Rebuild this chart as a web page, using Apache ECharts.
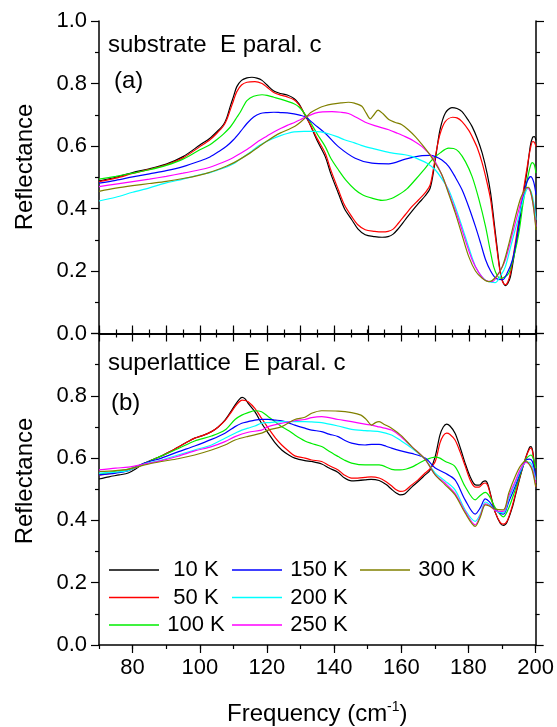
<!DOCTYPE html>
<html><head><meta charset="utf-8">
<script src="https://cdn.jsdelivr.net/npm/echarts@6/dist/echarts.min.js"></script>
<style>html,body{margin:0;padding:0;background:#fff}#c{width:557px;height:727px}</style>
</head><body><div id="c"></div>
<script>
const tempNames = ['10 K','50 K','100 K','150 K','200 K','250 K','300 K'];
const lineColors = ['#000000','#ff0000','#00ee00','#0000ff','#00ffff','#ff00ff','#808000'];
const xLabelValues = [80,100,120,140,160,180,200];
const panelTitles = ['substrate  E paral. c','superlattice  E paral. c'];
const panelTags = ['(a)','(b)'];

// substrate (a)
const sub10K = [[70,0.488],[75,0.500],[80,0.515],[85,0.527],[90,0.542],[95,0.566],[100,0.603],[103,0.625],[105,0.645],[107,0.668],[108,0.690],[109,0.725],[110,0.758],[111,0.790],[112.4,0.810],[114,0.818],[115.5,0.820],[117,0.817],[118.5,0.810],[120,0.795],[122,0.776],[124,0.768],[126,0.763],[128,0.752],[129.5,0.735],[131,0.705],[132.5,0.675],[135,0.615],[137.3,0.566],[139,0.510],[141.2,0.449],[143,0.400],[145.2,0.364],[147,0.335],[149.2,0.316],[152,0.310],[154.2,0.308],[156,0.310],[157.5,0.318],[159,0.335],[161.1,0.364],[163,0.390],[165.1,0.417],[167,0.440],[168.5,0.465],[169.6,0.524],[170.5,0.590],[171.5,0.655],[173,0.705],[175,0.723],[176.5,0.720],[178,0.710],[180,0.680],[181,0.662],[182.5,0.625],[184,0.577],[185.5,0.510],[186.5,0.449],[187.5,0.360],[188.4,0.278],[189.2,0.210],[190,0.170],[190.9,0.153],[191.6,0.160],[192.4,0.182],[193.5,0.250],[194.9,0.342],[196,0.430],[197.4,0.524],[198.3,0.600],[199,0.628],[199.5,0.630],[200,0.618]];
const sub50K = [[70,0.486],[75,0.497],[80,0.512],[85,0.525],[90,0.540],[95,0.562],[100,0.598],[103,0.620],[105,0.640],[107,0.664],[108,0.684],[109,0.714],[110,0.745],[111,0.774],[112.4,0.795],[114,0.804],[116.4,0.806],[118.5,0.800],[120,0.788],[122,0.771],[124,0.763],[126,0.757],[128,0.748],[129.5,0.732],[131,0.705],[132.5,0.676],[135,0.622],[137.3,0.577],[139,0.522],[141.2,0.460],[143,0.412],[145.2,0.374],[147,0.348],[149.2,0.332],[152,0.327],[154.2,0.325],[156,0.327],[157.5,0.334],[159,0.352],[161.1,0.380],[163,0.405],[165.1,0.428],[167,0.450],[168.5,0.475],[169.6,0.535],[170.5,0.592],[171.5,0.640],[173,0.678],[175.2,0.692],[176.5,0.690],[178,0.678],[180,0.650],[181,0.630],[182.5,0.595],[184,0.545],[185.5,0.480],[186.5,0.428],[187.5,0.345],[188.4,0.268],[189.2,0.205],[190,0.167],[190.9,0.156],[191.6,0.165],[192.4,0.193],[193.5,0.265],[194.9,0.364],[196,0.440],[197.4,0.535],[198.3,0.590],[199,0.614],[199.5,0.612],[200,0.598]];
const sub100K = [[70,0.494],[75,0.503],[80,0.513],[85,0.524],[90,0.538],[95,0.558],[100,0.588],[103,0.604],[105,0.620],[107,0.638],[109,0.660],[110,0.675],[111,0.692],[112,0.708],[113,0.728],[114,0.745],[116,0.759],[118.5,0.764],[120,0.762],[122,0.756],[124,0.750],[126.3,0.742],[128,0.735],[129.5,0.725],[131,0.706],[132.5,0.683],[135,0.637],[137.3,0.598],[139,0.560],[141.2,0.524],[143.5,0.490],[146.2,0.460],[148.5,0.443],[151.2,0.433],[154.2,0.426],[157,0.432],[159.1,0.444],[161.5,0.462],[164.1,0.492],[166.5,0.522],[169.1,0.556],[171.5,0.578],[174,0.593],[175.5,0.592],[177,0.582],[179,0.550],[181,0.502],[183,0.430],[185,0.342],[186.3,0.270],[187.4,0.214],[188.5,0.185],[189.4,0.177],[190.5,0.180],[191.9,0.193],[193.5,0.250],[194.9,0.321],[196.2,0.420],[197.4,0.492],[198.3,0.535],[198.9,0.547],[199.5,0.540],[200,0.513]];
const sub150K = [[70,0.481],[75,0.490],[80,0.501],[85,0.511],[90,0.521],[95,0.534],[100,0.552],[103,0.565],[106,0.585],[108,0.600],[110,0.620],[112,0.645],[114,0.672],[116,0.693],[118,0.704],[120,0.707],[122,0.708],[124,0.707],[126,0.706],[128,0.703],[130,0.698],[131.5,0.692],[134,0.670],[137.3,0.641],[141.2,0.598],[146.2,0.561],[151.2,0.545],[156.2,0.543],[161.1,0.558],[166.1,0.569],[168.5,0.570],[170.1,0.566],[172,0.555],[174,0.535],[176,0.500],[178,0.460],[180,0.405],[182,0.342],[183.5,0.290],[185,0.236],[186.5,0.200],[188,0.177],[190,0.172],[191.5,0.195],[193,0.236],[194.5,0.320],[195.9,0.428],[197.3,0.485],[198.4,0.502],[199.3,0.485],[200,0.444]];
const sub200K = [[70,0.424],[75,0.436],[80,0.452],[85,0.466],[90,0.482],[95,0.494],[100,0.508],[103,0.515],[105,0.522],[108,0.533],[110,0.543],[112,0.558],[115,0.580],[117,0.597],[120,0.615],[122,0.625],[124,0.633],[126,0.640],[128,0.645],[131,0.647],[134,0.647],[136,0.645],[138,0.640],[140.8,0.630],[143,0.620],[146,0.610],[148,0.602],[151,0.593],[154,0.585],[157,0.578],[161,0.572],[163,0.567],[165,0.558],[167.6,0.545],[170,0.524],[172,0.495],[174,0.460],[176,0.405],[178,0.342],[180,0.275],[182,0.214],[184,0.180],[185.5,0.167],[187.9,0.163],[189.5,0.185],[190.9,0.214],[193,0.300],[194.9,0.374],[196.5,0.440],[197.7,0.465],[198.5,0.455],[199.3,0.420],[200,0.364]];
const sub250K = [[70,0.470],[75,0.478],[80,0.486],[85,0.494],[90,0.503],[95,0.513],[100,0.524],[103,0.532],[105,0.540],[108,0.553],[110,0.563],[112,0.576],[115,0.596],[117,0.612],[120,0.632],[122,0.645],[124,0.656],[126,0.666],[128.3,0.676],[130,0.685],[131.8,0.694],[134.3,0.705],[136.5,0.709],[139.3,0.710],[142,0.708],[144.2,0.704],[146.5,0.692],[149.2,0.676],[152,0.665],[156.2,0.652],[158.5,0.642],[161.1,0.630],[163.5,0.617],[166.1,0.598],[168,0.578],[169.1,0.566],[171,0.530],[173,0.481],[175,0.423],[177,0.364],[179,0.298],[181,0.236],[183,0.195],[185,0.170],[187,0.166],[189,0.195],[190.9,0.236],[193,0.320],[194.9,0.396],[196.3,0.450],[197.4,0.467],[198.3,0.455],[199.2,0.410],[200,0.342]];
const sub300K = [[70,0.455],[75,0.465],[80,0.473],[85,0.480],[90,0.487],[95,0.496],[100,0.507],[103,0.516],[105,0.523],[108,0.536],[110,0.546],[112,0.558],[115,0.578],[117.5,0.597],[120,0.616],[122,0.630],[124,0.642],[126,0.651],[128.3,0.663],[130,0.677],[131.8,0.694],[133,0.707],[135.3,0.721],[137,0.728],[139.3,0.734],[142,0.738],[144.2,0.740],[146,0.737],[148.2,0.727],[149.5,0.705],[150.7,0.687],[151.8,0.700],[153,0.715],[154.5,0.703],[156.2,0.685],[158,0.676],[160.1,0.668],[162,0.652],[164.1,0.630],[166,0.606],[168.1,0.577],[170,0.545],[172,0.508],[174,0.448],[176,0.385],[178,0.315],[180,0.246],[182,0.200],[184,0.177],[186,0.166],[188,0.180],[190,0.214],[192,0.290],[193.9,0.374],[195.5,0.435],[197,0.465],[197.8,0.468],[198.6,0.445],[199.3,0.400],[200,0.331]];

// superlattice (b)
const sl10K = [[70,0.533],[73,0.540],[76,0.546],[78.7,0.552],[81,0.566],[83.6,0.584],[86,0.595],[88.6,0.607],[91,0.620],[93.5,0.635],[96,0.650],[98.5,0.664],[101,0.673],[103.5,0.685],[105.5,0.700],[107.5,0.722],[109,0.745],[110.5,0.770],[111.7,0.788],[112.6,0.795],[113.5,0.790],[114.4,0.776],[116.4,0.749],[118.4,0.712],[120.4,0.680],[122.5,0.648],[124.4,0.626],[126.5,0.610],[128.3,0.600],[131.3,0.592],[133.3,0.589],[136.3,0.581],[138.5,0.568],[141.2,0.554],[143,0.537],[145.2,0.527],[147,0.528],[149.2,0.530],[151,0.532],[153.4,0.528],[155.5,0.515],[157.1,0.500],[158.5,0.488],[159.6,0.482],[161,0.485],[163.1,0.507],[165,0.525],[167.1,0.546],[168.5,0.560],[170.1,0.605],[171.5,0.674],[172.5,0.700],[173.5,0.709],[174.5,0.703],[176,0.680],[177.5,0.635],[179,0.584],[180.5,0.540],[182,0.514],[183.2,0.513],[184.3,0.524],[185,0.527],[185.8,0.515],[187,0.465],[188,0.425],[189.5,0.390],[190.4,0.384],[191.5,0.395],[193,0.440],[193.9,0.477],[195.5,0.545],[197,0.600],[198.2,0.635],[198.6,0.637],[199.3,0.610],[200,0.515]];
const sl50K = [[70,0.545],[73,0.550],[76,0.556],[78.7,0.560],[81,0.570],[83.6,0.584],[86,0.595],[88.6,0.607],[91,0.620],[93.5,0.635],[96,0.650],[98.5,0.664],[101,0.673],[103.5,0.685],[105.5,0.700],[107.5,0.720],[109,0.742],[110.5,0.765],[111.7,0.780],[112.6,0.786],[113.5,0.785],[114.4,0.781],[116.4,0.760],[118.4,0.728],[120.4,0.696],[122.5,0.665],[124.4,0.642],[126.5,0.622],[128.3,0.607],[131.3,0.600],[133.3,0.594],[136.3,0.589],[138.5,0.576],[141.2,0.562],[143,0.546],[145.2,0.536],[147,0.536],[149.2,0.538],[151,0.540],[153.4,0.536],[155.5,0.524],[157.1,0.511],[158.5,0.498],[159.6,0.493],[161,0.495],[163.1,0.514],[165,0.530],[167.1,0.552],[168.5,0.565],[170.1,0.589],[171.5,0.648],[172.5,0.672],[173.5,0.680],[174.5,0.676],[176,0.658],[177.5,0.620],[179,0.575],[180.5,0.530],[182,0.507],[183.2,0.507],[184.3,0.518],[185,0.520],[185.8,0.510],[187,0.462],[188,0.425],[189.5,0.393],[190.4,0.388],[191.5,0.398],[193,0.445],[193.9,0.482],[195.5,0.548],[197,0.600],[198.2,0.630],[198.6,0.632],[199.3,0.605],[200,0.508]];
const sl100K = [[70,0.548],[75,0.558],[78.7,0.565],[83.6,0.584],[88.6,0.607],[93.5,0.630],[98.5,0.655],[103.5,0.671],[107.5,0.690],[110.5,0.724],[112.5,0.738],[114.4,0.746],[116.4,0.752],[118.4,0.749],[120.4,0.733],[122.5,0.716],[124.4,0.701],[126.5,0.688],[128.3,0.674],[131.3,0.655],[133.3,0.647],[136.3,0.637],[138.5,0.622],[141.2,0.605],[143,0.594],[145.2,0.584],[149.2,0.578],[153.4,0.578],[157.1,0.564],[159.6,0.562],[161.5,0.565],[163.1,0.571],[165,0.582],[167.1,0.594],[170.1,0.603],[171.5,0.600],[173,0.590],[176,0.573],[179,0.509],[182,0.466],[183.5,0.480],[185,0.490],[186.2,0.478],[188,0.440],[190.4,0.411],[192,0.440],[193.9,0.498],[195.5,0.550],[197,0.595],[198.6,0.610],[199.3,0.598],[200,0.568]];
const sl150K = [[70,0.546],[75,0.552],[78.7,0.560],[83.6,0.584],[88.6,0.600],[93.5,0.620],[98.5,0.639],[103.5,0.660],[107.5,0.680],[110.5,0.701],[112.5,0.712],[114.4,0.717],[116.4,0.722],[118.4,0.724],[120.4,0.724],[122.5,0.722],[124.4,0.720],[126.5,0.713],[128.3,0.706],[131.3,0.696],[133.3,0.690],[136.3,0.685],[138.5,0.677],[141.2,0.669],[143,0.658],[145.2,0.648],[149.2,0.642],[151.2,0.644],[153.4,0.644],[155.5,0.638],[157.1,0.632],[159.6,0.624],[163.1,0.615],[167.1,0.600],[170.1,0.568],[173,0.552],[176,0.530],[179,0.466],[182,0.420],[183.5,0.440],[185,0.469],[186.2,0.460],[188,0.434],[190.4,0.420],[192,0.460],[193.9,0.509],[195.5,0.555],[197.1,0.594],[198.2,0.597],[199,0.590],[200,0.541]];
const sl200K = [[70,0.552],[75,0.555],[78.7,0.560],[83.6,0.582],[88.6,0.594],[93.5,0.610],[98.5,0.626],[103.5,0.642],[107.5,0.664],[110.5,0.680],[112.5,0.690],[114.4,0.696],[116.4,0.703],[118.4,0.712],[120.4,0.714],[124.4,0.717],[128.3,0.717],[131.3,0.717],[133.3,0.716],[136.3,0.714],[141.2,0.703],[145.2,0.692],[149.2,0.688],[153.4,0.685],[157.1,0.674],[160,0.655],[163.1,0.632],[167.1,0.596],[170.1,0.552],[173,0.527],[176,0.498],[179,0.434],[182,0.397],[183.5,0.420],[185,0.459],[186.2,0.452],[188,0.432],[190.4,0.424],[192,0.470],[193.9,0.520],[195.5,0.560],[197.1,0.586],[198.2,0.586],[199,0.575],[200,0.530]];
const sl250K = [[70,0.562],[75,0.568],[78.7,0.571],[83.6,0.581],[88.6,0.592],[93.5,0.606],[98.5,0.623],[103.5,0.637],[107.5,0.653],[110.5,0.669],[114.4,0.683],[118.4,0.690],[120.4,0.701],[124.4,0.712],[128.3,0.720],[131.3,0.724],[133.3,0.730],[136.3,0.733],[141.2,0.724],[145.2,0.717],[149.2,0.709],[151.2,0.706],[153.4,0.700],[157.1,0.690],[160,0.668],[163.1,0.637],[167.1,0.596],[170.1,0.546],[173,0.520],[176,0.487],[179,0.429],[182,0.386],[183.5,0.415],[185,0.453],[186.2,0.448],[188,0.432],[190.4,0.429],[192,0.478],[193.9,0.525],[195.5,0.565],[197.1,0.586],[198.2,0.580],[199,0.565],[200,0.520]];
const sl300K = [[70,0.557],[75,0.560],[78.7,0.564],[83.6,0.578],[88.6,0.589],[93.5,0.598],[98.5,0.610],[103.5,0.626],[107.5,0.642],[110.5,0.658],[114.4,0.670],[118.4,0.680],[120.4,0.690],[124.4,0.701],[128.3,0.724],[131.3,0.731],[133.3,0.744],[136.3,0.752],[141.2,0.751],[145.2,0.746],[148,0.738],[149.5,0.725],[151.2,0.706],[152.3,0.714],[153.4,0.717],[155,0.708],[157.1,0.696],[160,0.672],[163.1,0.637],[167.1,0.596],[170.1,0.546],[173,0.515],[176,0.482],[179,0.424],[182,0.381],[183.5,0.410],[185,0.450],[186.2,0.446],[188,0.436],[190.4,0.434],[192,0.488],[193.9,0.541],[195.5,0.575],[197.1,0.591],[198.2,0.578],[199,0.560],[200,0.509]];

const subSeries = [sub10K, sub50K, sub100K, sub150K, sub200K, sub250K, sub300K];
const slSeries = [sl10K, sl50K, sl100K, sl150K, sl200K, sl250K, sl300K];

const FONT = 'Liberation Sans, Arial, sans-serif';
const G = [{left:99, top:21, width:437, height:312.5}, {left:99, top:333.5, width:437, height:312.5}];
const lineS = {show:true, lineStyle:{color:'#000', width:1.5}};
function xAx(grid, pos, opt) {
  return Object.assign({
    type:'value', gridIndex:grid, position:pos, min:70, max:200, interval:10,
    axisLine:lineS, splitLine:{show:false},
    axisTick:{show:true, inside:false, length:8, lineStyle:{color:'#000', width:1.2}},
    minorTick:{show:false}, axisLabel:{show:false}
  }, opt);
}
function yAx(grid, pos, labels, hideTop) {
  return {
    type:'value', gridIndex:grid, position:pos, min:0, max:1, interval:0.2,
    axisLine:lineS, splitLine:{show:false},
    axisTick:{show:true, inside:false, length:8, lineStyle:{color:'#000', width:1.2}},
    minorTick:{show:true, splitNumber:2, length:4, lineStyle:{color:'#000', width:1.2}},
    axisLabel:{show:labels, margin:12, color:'#000', fontSize:22, fontFamily:FONT,
      formatter: v => (hideTop && v > 0.95) ? '' : v.toFixed(1)}
  };
}
const xAxes = [
  xAx(0,'bottom',{minorTick:{show:true, splitNumber:2, length:4, lineStyle:{color:'#000', width:1.2}}}),
  xAx(0,'top',{minorTick:{show:true, splitNumber:2, length:4, lineStyle:{color:'#000', width:1.2}}}),
  xAx(1,'bottom',{axisTick:{show:true, length:4, lineStyle:{color:'#000', width:1.2}},
    axisLabel:{show:true, margin:12, color:'#000', fontSize:22, fontFamily:FONT,
      formatter: v => (xLabelValues.indexOf(v) >= 0 ? String(v) : '')},
    name:'{a|Frequency (cm}{b|-1}{a|)}', nameLocation:'middle', nameGap:55,
    nameTextStyle:{rich:{a:{fontSize:24, fontFamily:FONT, color:'#000', lineHeight:28},
                         b:{fontSize:14, fontFamily:FONT, color:'#000', lineHeight:28, verticalAlign:'top', padding:[0,0,12,0]}}}}),
  xAx(1,'bottom',{axisLine:{show:false}, axisTick:{show:true, length:8, customValues:xLabelValues, lineStyle:{color:'#000', width:1.2}}}),
  xAx(1,'top',{axisTick:{show:true, length:4, lineStyle:{color:'#000', width:1.2}}})
];
const yAxes = [yAx(0,'left',true,false), yAx(0,'right',false,false), yAx(1,'left',true,true), yAx(1,'right',false,false)];

const series = [];
subSeries.forEach((d,i) => series.push({name:tempNames[i], type:'line', xAxisIndex:0, yAxisIndex:0, data:d,
  symbol:'none', smooth:0.3, lineStyle:{color:lineColors[i], width:1.2}, itemStyle:{color:lineColors[i]}}));
slSeries.forEach((d,i) => series.push({name:tempNames[i], type:'line', xAxisIndex:2, yAxisIndex:2, data:d,
  symbol:'none', smooth:0.3, lineStyle:{color:lineColors[i], width:1.2}, itemStyle:{color:lineColors[i]}}));

const legText = {color:'#000', rich:{t:{width:64, align:'center', fontSize:22, fontFamily:FONT, color:'#000', lineHeight:22}}};
function leg(names, left) {
  return {data:names, orient:'vertical', left:left, top:559, icon:'rect', itemWidth:50, itemHeight:1.5, itemGap:5.5,
    padding:0, formatter:'{t|{name}}', textStyle:legText, selectedMode:false};
}

const chart = echarts.init(document.getElementById('c'), null, {renderer:'canvas'});
chart.setOption({
  animation:false,
  backgroundColor:'#fff',
  grid:G,
  xAxis:xAxes,
  yAxis:yAxes,
  legend:[leg(tempNames.slice(0,3),109), leg(tempNames.slice(3,6),232), leg(tempNames.slice(6),360)],
  series:series,
  graphic:[
    {type:'text', x:108, y:45, style:{text:panelTitles[0], font:'24px '+FONT, fill:'#000', textAlign:'left', textVerticalAlign:'middle', align:'left', verticalAlign:'middle'}},
    {type:'text', x:114, y:81, style:{text:panelTags[0], font:'24px '+FONT, fill:'#000', textAlign:'left', textVerticalAlign:'middle', align:'left', verticalAlign:'middle'}},
    {type:'text', x:108, y:363, style:{text:panelTitles[1], font:'24px '+FONT, fill:'#000', textAlign:'left', textVerticalAlign:'middle', align:'left', verticalAlign:'middle'}},
    {type:'text', x:111, y:403, style:{text:panelTags[1], font:'24px '+FONT, fill:'#000', textAlign:'left', textVerticalAlign:'middle', align:'left', verticalAlign:'middle'}},
    {type:'text', x:25, y:167, rotation:Math.PI/2, style:{text:'Reflectance', font:'24px '+FONT, fill:'#000', textAlign:'center', textVerticalAlign:'middle', align:'center', verticalAlign:'middle'}},
    {type:'text', x:25, y:481, rotation:Math.PI/2, style:{text:'Reflectance', font:'24px '+FONT, fill:'#000', textAlign:'center', textVerticalAlign:'middle', align:'center', verticalAlign:'middle'}}
  ]
});
</script></body></html>
